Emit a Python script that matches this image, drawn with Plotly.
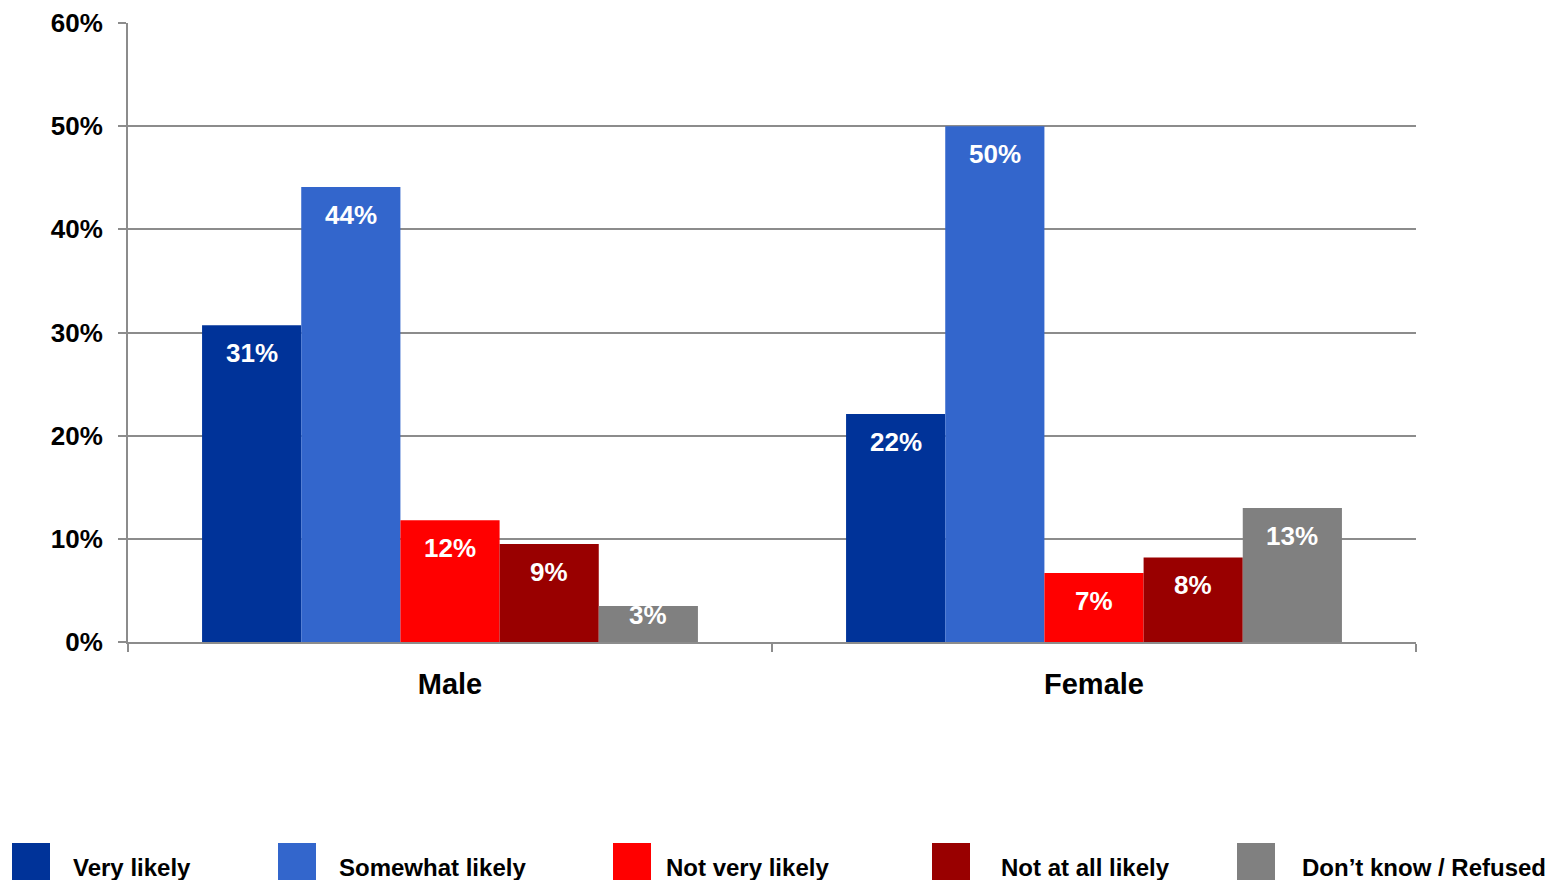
import plotly.graph_objects as go

categories = ["Male", "Female"]
series_names = ["Very likely", "Somewhat likely", "Not very likely", "Not at all likely", "Don\u2019t know / Refused"]
series_colors = ["#003399", "#3366CC", "#FF0000", "#990000", "#808080"]
very_likely = [30.7, 22.1]
somewhat_likely = [44.1, 50.0]
not_very_likely = [11.8, 6.7]
not_at_all_likely = [9.5, 8.2]
dont_know = [3.5, 13.0]
label_very = ["31%", "22%"]
label_somewhat = ["44%", "50%"]
label_notvery = ["12%", "7%"]
label_notatall = ["9%", "8%"]
label_dk = ["3%", "13%"]
y_ticks = [0, 10, 20, 30, 40, 50, 60]
y_ticklabels = ["0%", "10%", "20%", "30%", "40%", "50%", "60%"]

series_values = [very_likely, somewhat_likely, not_very_likely, not_at_all_likely, dont_know]
series_labels = [label_very, label_somewhat, label_notvery, label_notatall, label_dk]

W, H = 1550, 880
ML, MR, MT, MB = 128, 134, 23, 238
PW, PH = W - ML - MR, H - MT - MB
YMAX = 60
BARGAP = 0.23
FONT = "Liberation Sans, Arial, sans-serif"
GRID = "#8c8c8c"

fig = go.Figure()
for name, color, vals in zip(series_names, series_colors, series_values):
    fig.add_trace(go.Bar(x=categories, y=vals, name=name, marker=dict(color=color, line=dict(width=0)),
                         showlegend=False, hoverinfo="skip"))

# data labels
n = len(series_names)
w = (1 - BARGAP) / n
px_per_unit = PH / YMAX
for i, (vals, labs) in enumerate(zip(series_values, series_labels)):
    for c, (v, t) in enumerate(zip(vals, labs)):
        h_px = v * px_per_unit
        shift = min(28, h_px - 27)
        fig.add_annotation(x=c + (i - (n - 1) / 2) * w, y=v, xref="x", yref="y", text=t,
                           showarrow=False, yshift=-shift, yanchor="middle",
                           font=dict(family=FONT, size=26, color="white", weight="bold"))

# custom legend
sq_left = [12, 278, 613, 932, 1237]
txt_left = [71, 337, 664, 999, 1300]
def px2paper_x(px):
    return (px - ML) / PW
def py2paper_y(py):
    return (H - MB - py) / PH
for name, color, sx, tx in zip(series_names, series_colors, sq_left, txt_left):
    fig.add_shape(type="rect", xref="paper", yref="paper",
                  x0=px2paper_x(sx), x1=px2paper_x(sx + 38),
                  y0=py2paper_y(843), y1=py2paper_y(885),
                  fillcolor=color, line=dict(width=0), layer="above")
    fig.add_annotation(xref="paper", yref="paper", x=px2paper_x(tx), y=py2paper_y(867),
                       xanchor="left", yanchor="middle", text=name, showarrow=False,
                       font=dict(family=FONT, size=24, color="black", weight="bold"))

fig.update_layout(
    width=W, height=H,
    margin=dict(l=ML, r=MR, t=MT, b=MB, pad=0, autoexpand=False),
    plot_bgcolor="white", paper_bgcolor="white",
    barmode="group", bargap=BARGAP, bargroupgap=0,
    showlegend=False,
    font=dict(family=FONT, color="black"),
)
fig.update_xaxes(
    showline=True, linecolor=GRID, linewidth=2, automargin=False,
    ticks="outside", tickson="boundaries", ticklen=8, tickcolor=GRID, tickwidth=2,
    showgrid=False, ticklabelstandoff=15,
    tickfont=dict(family=FONT, size=29, color="black", weight="bold"),
)
fig.update_yaxes(
    range=[0, YMAX], tickvals=y_ticks, ticktext=y_ticklabels,
    showline=True, linecolor=GRID, linewidth=2, automargin=False,
    ticks="outside", ticklen=8, tickcolor=GRID, tickwidth=2,
    showgrid=True, gridcolor=GRID, gridwidth=2, zeroline=False,
    ticklabelstandoff=10,
    tickfont=dict(family=FONT, size=26, color="black", weight="bold"),
)

fig.write_html("out.html", config={"displayModeBar": False},
               post_script="document.body.style.margin='0';document.body.style.overflow='hidden';")
